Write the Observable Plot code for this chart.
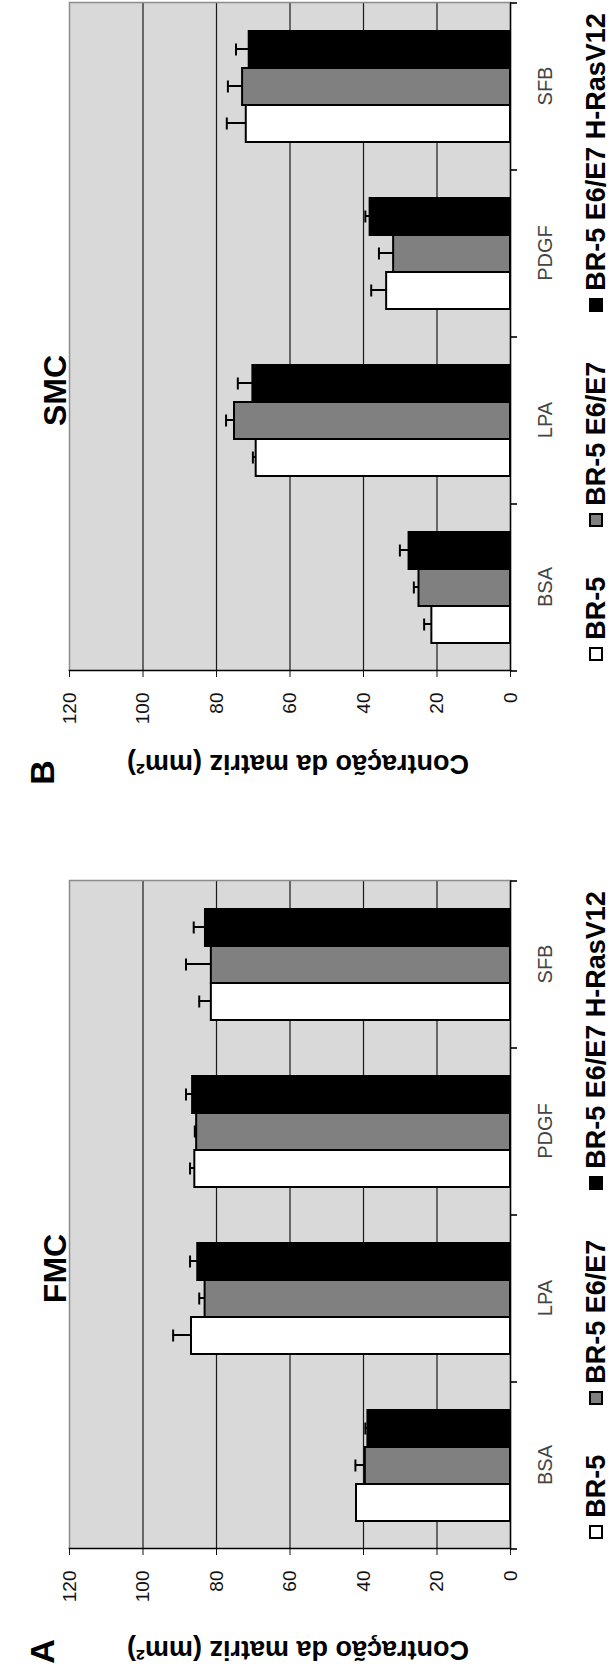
<!DOCTYPE html>
<html>
<head>
<meta charset="utf-8">
<script src="https://cdn.jsdelivr.net/npm/d3@7"></script>
<script src="https://cdn.jsdelivr.net/npm/@observablehq/plot@0.6"></script>
<style>
  html, body { margin: 0; padding: 0; background: #fff; }
  #page { position: relative; width: 614px; height: 1679px; overflow: hidden; }
  /* The figure is laid out landscape, then turned a quarter turn counter-clockwise */
  #figure {
    position: absolute; left: 0; top: 0; width: 1679px; height: 614px;
    display: flex; transform-origin: 0 0;
    transform: translateY(1679px) rotate(-90deg);
    font-family: "Liberation Sans", Arial, sans-serif;
  }
  .panel { height: 614px; flex: none; }
  .panel svg { display: block; overflow: visible; }
  .legend {
    box-sizing: border-box; height: 42px; padding-top: 6px;
    display: flex; justify-content: center; align-items: center; gap: 50px;
    font: bold 27px "Liberation Sans", Arial, sans-serif; color: #000; white-space: nowrap;
  }
  .item { display: flex; align-items: center; gap: 7px; }
  .swatch { width: 10px; height: 10px; border: 2px solid #000; }
</style>
</head>
<body>
<div id="page"><div id="figure"></div></div>
<script>
// Categories, series and axis ticks
const categories = ["BSA", "LPA", "PDGF", "SFB"];
const series = ["BR-5", "BR-5 E6/E7", "BR-5 E6/E7 H-RasV12"];
const seriesFill = ["#ffffff", "#808080", "#000000"];
const yTicks = [0, 20, 40, 60, 80, 100, 120];
const axisTitle = "Contração da matriz (mm²)";

// FMC: mean matrix contraction (mm²) per category, and error (upper bar)
const fmcBR5 = [41.9, 86.8, 85.9, 81.4];
const fmcE6E7 = [39.5, 83.1, 85.4, 81.4];
const fmcRas = [38.8, 85.1, 86.5, 83.0];
const fmcBR5Err = [0, 5.0, 1.3, 3.3];
const fmcE6E7Err = [2.7, 1.6, 0.5, 6.9];
const fmcRasErr = [0.7, 2.1, 1.8, 3.2];

// SMC
const smcBR5 = [21.4, 69.2, 33.7, 71.9];
const smcE6E7 = [24.9, 75.1, 31.8, 72.9];
const smcRas = [27.6, 70.1, 38.2, 71.1];
const smcBR5Err = [2.1, 0.9, 4.2, 5.3];
const smcE6E7Err = [1.4, 2.3, 4.0, 4.0];
const smcRasErr = [2.5, 4.1, 1.3, 3.6];

function rowsFor(means, errs) {
  return categories.flatMap((category, i) =>
    series.map((s, j) => ({category, series: s, value: means[j][i], err: errs[j][i]}))
  );
}

function drawPanel(cfg) {
  const rows = rowsFor(cfg.means, cfg.errs);
  const withErr = rows.filter(d => d.err > 0);
  const svg = Plot.plot({
    width: cfg.width,
    height: 572,
    marginLeft: cfg.marginLeft,
    marginRight: cfg.marginRight,
    marginTop: 69,
    marginBottom: 62,
    style: {fontFamily: "'Liberation Sans', Arial, sans-serif", background: "transparent", overflow: "visible"},
    fx: {domain: categories, padding: 0, label: null},
    x: {domain: series, paddingInner: 0, paddingOuter: 0.728, axis: null},
    y: {domain: [0, 120], axis: null},
    color: {domain: series, range: seriesFill},
    marks: [
      Plot.frame({fill: "#d9d9d9", facet: "super"}),
      Plot.gridY(yTicks.filter(v => v > 0 && v < 120), {stroke: "#1a1a1a", strokeOpacity: 1, strokeWidth: 1.2}),
      Plot.ruleY([120], {stroke: "#8c8c8c", strokeWidth: 1.5}),
      Plot.frame({anchor: "right", stroke: "#8c8c8c", strokeWidth: 1.5, facet: "super"}),
      Plot.barY(rows, {fx: "category", x: "series", y: "value", fill: "series", stroke: "#000", strokeWidth: 2}),
      Plot.ruleX(withErr, {fx: "category", x: "series", y1: "value", y2: d => d.value + d.err, stroke: "#000", strokeWidth: 2}),
      Plot.tickY(withErr, {fx: "category", x: "series", y: d => d.value + d.err, stroke: "#000", strokeWidth: 2, inset: 12.5}),
      Plot.ruleY([0], {stroke: "#000", strokeWidth: 1.6}),
      Plot.frame({anchor: "left", stroke: "#000", strokeWidth: 1.6, facet: "super"}),
      Plot.axisY(yTicks, {tickSize: 6, tickPadding: 16, fontSize: 19, color: "#111", label: null}),
      Plot.axisFx({anchor: "bottom", tickSize: 0, tickPadding: 27, fontSize: 20, color: "#444", label: null}),
      Plot.text([cfg.title], {frameAnchor: "top", dx: -54, dy: -26, fontSize: 32, fontWeight: "bold", facet: "super"}),
      Plot.text([cfg.letter], {frameAnchor: "top-left", dx: cfg.letterDx, dy: -40, fontSize: 34, fontWeight: "bold", textAnchor: "middle", facet: "super"}),
      Plot.text([axisTitle], {frameAnchor: "left", dx: cfg.axisTitleDx, dy: 8, rotate: -90, fontSize: 27, fontWeight: "bold", textAnchor: "middle", facet: "super"})
    ]
  });

  // Category tick marks sit on the boundaries between groups
  const fx = svg.scale("fx");
  const y = svg.scale("y");
  const edges = categories.map(c => fx.apply(c)).concat([fx.apply(categories[categories.length - 1]) + fx.bandwidth]);
  d3.select(svg).append("g")
    .attr("stroke", "#000").attr("stroke-width", 1.6)
    .selectAll("line").data(edges).join("line")
    .attr("x1", d => d).attr("x2", d => d)
    .attr("y1", y.apply(0)).attr("y2", y.apply(0) + 7);

  const div = document.createElement("div");
  div.className = "panel";
  div.style.width = cfg.width + "px";
  div.appendChild(svg);

  const legend = document.createElement("div");
  legend.className = "legend";
  legend.style.paddingLeft = cfg.marginLeft + "px";
  legend.style.paddingRight = cfg.marginRight + "px";
  series.forEach((s, j) => {
    const item = document.createElement("span");
    item.className = "item";
    const sw = document.createElement("span");
    sw.className = "swatch";
    sw.style.background = seriesFill[j];
    const label = document.createElement("span");
    label.textContent = s;
    item.append(sw, label);
    legend.appendChild(item);
  });
  div.appendChild(legend);
  document.getElementById("figure").appendChild(div);
}

drawPanel({
  title: "FMC", letter: "A",
  means: [fmcBR5, fmcE6E7, fmcRas], errs: [fmcBR5Err, fmcE6E7Err, fmcRasErr],
  width: 839, marginLeft: 130, marginRight: 41,
  letterDx: -103, axisTitleDx: -101
});
drawPanel({
  title: "SMC", letter: "B",
  means: [smcBR5, smcE6E7, smcRas], errs: [smcBR5Err, smcE6E7Err, smcRasErr],
  width: 840, marginLeft: 169, marginRight: 3,
  letterDx: -102, axisTitleDx: -93
});
</script>
</body>
</html>
